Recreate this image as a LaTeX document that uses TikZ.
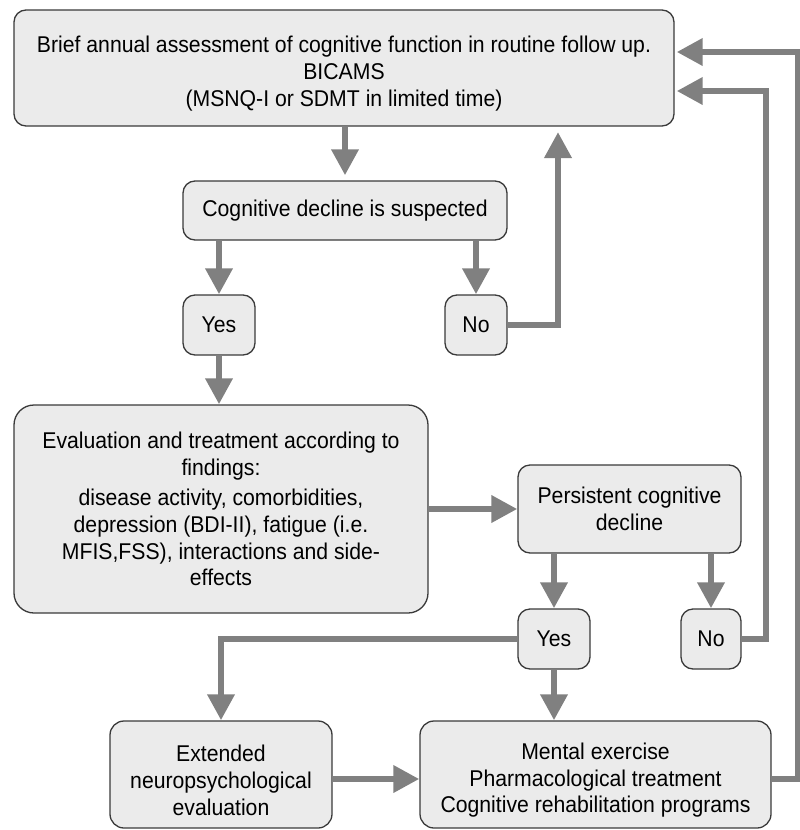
\documentclass[tikz,border=0pt]{standalone}
\usepackage{fontspec}
\setmainfont{Liberation Sans}[FakeStretch=0.93]
\usetikzlibrary{arrows.meta}
\definecolor{boxfill}{HTML}{EBEBEB}
\definecolor{boxline}{HTML}{3A3A3A}
\definecolor{arr}{HTML}{808080}
\newcommand\fstrut{\rule{0pt}{28pt}}
\begin{document}
\begin{tikzpicture}[x=1pt,y=-1pt,
  box/.style={draw=boxline, line width=1.3pt, fill=boxfill, rounded corners=12pt,
    align=center, inner sep=0pt, font=\fontsize{22.8}{26.7}\selectfont, text=black},
  conn/.style={draw=arr, line width=6.5pt, -{Triangle[length=26pt,width=26pt]}}]

\useasboundingbox (0,0) rectangle (800,830);

\node[box, minimum width=660pt, minimum height=116pt] (top) at (344,68)
  {\fstrut Brief annual assessment of cognitive function in routine follow up.\\BICAMS\\(MSNQ-I or SDMT in limited time)};
\node[box, minimum width=324pt, minimum height=59pt] (cog) at (345,210.5) {Cognitive decline is suspected};
\node[box, minimum width=72pt, minimum height=60pt] (yes1) at (219,325) {Yes};
\node[box, minimum width=62pt, minimum height=60pt] (no1) at (476,325) {No};
\node[box, rounded corners=20pt, minimum width=414pt, minimum height=208pt] (eval) at (221,509)
  {Evaluation and treatment according to\\findings:\\[4pt]disease activity, comorbidities,\\depression (BDI-II), fatigue (i.e.\\MFIS,FSS), interactions and side-\\effects};
\node[box, minimum width=223pt, minimum height=88pt] (pers) at (629.5,509) {Persistent cognitive\\decline};
\node[box, minimum width=72pt, minimum height=60pt] (yes2) at (554,639) {Yes};
\node[box, minimum width=60pt, minimum height=60pt] (no2) at (711,639) {No};
\node[box, rounded corners=14pt, minimum width=222pt, minimum height=107pt] (ext) at (221,774.5) {\fstrut Extended\\neuropsychological\\evaluation};
\node[box, rounded corners=14pt, minimum width=351pt, minimum height=107pt] (ment) at (595.5,774.5) {\fstrut Mental exercise\\Pharmacological treatment\\Cognitive rehabilitation programs};

\coordinate (ey) at (0,779);
\coordinate (n1up) at (558,126);
\coordinate (r1) at (766,91);
\coordinate (r2) at (798,52);

\draw[conn, shorten >=5pt] (top.south -| cog.north) -- (cog.north);
\draw[conn] (cog.south -| yes1.north) -- (yes1.north);
\draw[conn] (cog.south -| no1.north) -- (no1.north);
\draw[conn, shorten >=6pt] (no1.east) -| (n1up);
\draw[conn] (yes1.south) -- (yes1.south |- eval.north);
\draw[conn] (eval.east |- pers.west) -- (pers.west);
\draw[conn] (pers.south -| yes2.north) -- (yes2.north);
\draw[conn] (pers.south -| no2.north) -- (no2.north);
\draw[conn, shorten >=2pt] (no2.east) -| (r1) -- (r1 -| top.east);
\draw[conn] (yes2.west) -| (ext.north);
\draw[conn] (yes2.south) -- (yes2.south |- ment.north);
\draw[conn] (ext.east |- ey) -- (ment.west |- ey);
\draw[conn, shorten >=2pt] (ment.east |- ey) -| (r2) -- (r2 -| top.east);
\end{tikzpicture}
\end{document}
